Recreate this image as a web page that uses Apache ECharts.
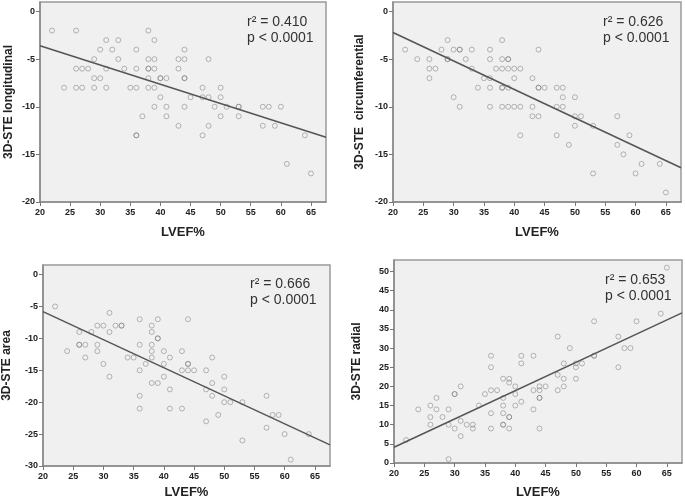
<!DOCTYPE html>
<html>
<head>
<meta charset="utf-8">
<script src="https://cdn.jsdelivr.net/npm/echarts@6/dist/echarts.min.js"></script>
<style>
html,body{margin:0;padding:0;background:#fff;}
#main{width:685px;height:504px;}
</style>
</head>
<body>
<div id="main"></div>
<script>
// LVEF% vs 3D-STE strain, [x, y] (repeats = overlapping points)
var longPts = [[22,-2],[24,-8],[26,-2],[26,-6],[26,-8],[27,-6],[27,-8],[28,-6],[29,-5],[29,-7],[29,-8],
	[30,-4],[30,-7],[31,-3],[31,-6],[31,-8],[32,-4],[33,-3],[33,-5],[34,-6],[35,-8],[36,-4],[36,-6],[36,-8],
	[36,-13],[36,-13],[37,-11],[38,-2],[38,-5],[38,-6],[38,-6],[38,-7],[38,-8],[39,-3],[39,-5],[39,-6],[39,-8],
	[39,-10],[40,-7],[40,-7],[40,-9],[41,-7],[41,-10],[41,-11],[43,-5],[43,-6],[43,-12],[44,-4],[44,-5],
	[44,-7],[44,-7],[44,-10],[45,-9],[47,-8],[47,-9],[47,-13],[48,-5],[48,-9],[48,-12],[49,-10],[50,-8],
	[50,-9],[50,-11],[51,-10],[53,-10],[53,-10],[53,-11],[57,-10],[57,-12],[58,-10],[59,-12],[60,-10],
	[61,-16],[64,-13],[65,-17]];
var circPts = [[22,-4],[24,-5],[26,-5],[26,-6],[26,-7],[27,-6],[28,-4],[29,-3],[29,-5],[29,-5],[30,-4],
	[30,-9],[31,-4],[31,-4],[31,-10],[32,-5],[33,-4],[33,-6],[34,-8],[35,-7],[36,-4],[36,-5],[36,-7],[36,-8],
	[36,-10],[37,-6],[38,-3],[38,-5],[38,-6],[38,-8],[38,-8],[38,-10],[39,-5],[39,-5],[39,-6],[39,-8],[39,-10],
	[40,-6],[40,-7],[40,-10],[41,-6],[41,-10],[41,-13],[43,-7],[43,-10],[43,-11],[44,-4],[44,-8],[44,-8],
	[44,-11],[45,-8],[47,-8],[47,-10],[47,-13],[48,-8],[48,-9],[48,-10],[49,-14],[50,-9],[50,-11],[50,-12],
	[51,-11],[53,-12],[53,-17],[57,-11],[57,-14],[58,-15],[59,-13],[60,-17],[61,-16],[64,-16],[65,-19]];
var areaPts = [[22,-5],[24,-12],[26,-9],[26,-11],[26,-11],[27,-11],[27,-13],[28,-9],[29,-8],[29,-11],
	[29,-12],[30,-8],[30,-14],[31,-6],[31,-9],[31,-16],[32,-8],[33,-8],[33,-8],[34,-13],[35,-13],[36,-7],
	[36,-11],[36,-15],[36,-19],[36,-21],[37,-14],[38,-8],[38,-9],[38,-11],[38,-12],[38,-13],[38,-17],[39,-7],
	[39,-10],[39,-10],[39,-17],[40,-12],[40,-14],[40,-16],[41,-13],[41,-18],[41,-21],[43,-12],[43,-15],
	[43,-21],[44,-7],[44,-14],[44,-14],[44,-15],[45,-15],[47,-15],[47,-18],[47,-23],[48,-13],[48,-17],
	[48,-19],[49,-22],[50,-16],[50,-18],[50,-20],[51,-20],[53,-20],[53,-26],[57,-19],[57,-24],[58,-22],
	[59,-22],[60,-25],[61,-29],[64,-25]];
var radialPts = [[22,6],[24,14],[26,15],[26,12],[26,10],[27,17],[27,14],[28,12],[29,14],[29,10],[29,1],
	[30,18],[30,18],[30,9],[31,20],[31,11],[31,7],[32,10],[33,10],[33,9],[34,15],[35,18],[36,28],[36,25],
	[36,19],[36,13],[36,9],[37,19],[38,22],[38,17],[38,15],[38,13],[38,10],[38,10],[39,22],[39,21],[39,12],
	[39,12],[39,9],[40,20],[40,18],[40,15],[41,28],[41,26],[41,16],[43,28],[43,19],[43,14],[44,20],[44,19],
	[44,17],[44,17],[44,9],[45,20],[47,33],[47,23],[47,19],[48,26],[48,22],[48,20],[49,30],[50,26],[50,25],
	[50,22],[51,26],[53,37],[53,28],[53,28],[57,33],[57,25],[58,30],[59,30],[60,37],[64,39],[65,51]];

// fit line end points
var longFit = [[20,-3.6],[67.5,-13.2]];
var circFit = [[20,-2.2],[67.5,-16.4]];
var areaFit = [[20,-5.8],[67.5,-26.7]];
var radialFit = [[20,4.1],[67.5,39.2]];

var xTicks = [20,25,30,35,40,45,50,55,60,65];
var yTicksStrain = [0,-5,-10,-15,-20];
var yTicksArea = [0,-5,-10,-15,-20,-25,-30];
var yTicksRadial = [0,5,10,15,20,25,30,35,40,45,50];

var titles = ['3D-STE longitudinal','3D-STE  circumferential','3D-STE area','3D-STE radial'];
var stats = [['r\u00b2 = 0.410','p < 0.0001'],['r\u00b2 = 0.626','p < 0.0001'],
	['r\u00b2 = 0.666','p < 0.0001'],['r\u00b2 = 0.653','p < 0.0001']];

var grids = [
	{left:40, top:2, width:286, height:200},
	{left:393, top:2, width:288, height:200},
	{left:42, top:265, width:288, height:201},
	{left:394, top:260, width:288, height:203}
];
var yRanges = [[-20,1],[-20,1],[-30,1.5],[0,53]];
var yTicks = [yTicksStrain, yTicksStrain, yTicksArea, yTicksRadial];
var yGaps = [25,27,30,31];
var xGaps = [24,24,20,23];
var pts = [longPts, circPts, areaPts, radialPts];
var fits = [longFit, circFit, areaFit, radialFit];

var labelFont = {fontSize:9, fontWeight:'bold', color:'#222', fontFamily:'Liberation Sans, Arial'};

var option = {grid:[], xAxis:[], yAxis:[], series:[], graphic:[], animation:false};
for (var i=0;i<4;i++){
	var g = grids[i];
	option.grid.push({left:g.left, top:g.top, width:g.width, height:g.height, show:true,
		backgroundColor:'#f0f0f0', borderColor:'#9a9a9a', borderWidth:1.5});
	option.xAxis.push({
		type:'value', gridIndex:i, min:20, max:67.5,
		name:'LVEF%', nameLocation:'middle', nameGap:xGaps[i],
		nameTextStyle:{fontSize:13, fontWeight:'bold', color:'#222', fontFamily:'Liberation Sans, Arial'},
		axisLine:{show:true, onZero:false, lineStyle:{color:'#8a8a8a', width:1.5}},
		axisTick:{show:true, length:4, customValues:xTicks, lineStyle:{color:'#777'}},
		axisLabel:Object.assign({customValues:xTicks, margin:6}, labelFont),
		splitLine:{show:false}
	});
	option.yAxis.push({
		type:'value', gridIndex:i, min:yRanges[i][0], max:yRanges[i][1],
		name:titles[i], nameLocation:'middle', nameGap:yGaps[i],
		nameTextStyle:{fontSize:12, fontWeight:'bold', color:'#222', fontFamily:'Liberation Sans, Arial'},
		axisLine:{show:true, onZero:false, lineStyle:{color:'#8a8a8a', width:1.5}},
		axisTick:{show:true, length:4, customValues:yTicks[i], lineStyle:{color:'#777'}},
		axisLabel:Object.assign({customValues:yTicks[i], margin:5}, labelFont),
		splitLine:{show:false}
	});
	option.series.push({
		type:'scatter', xAxisIndex:i, yAxisIndex:i, data:pts[i],
		symbol:'circle', symbolSize:5,
		itemStyle:{color:'rgba(0,0,0,0)', borderColor:'rgba(110,110,110,0.6)', borderWidth:1}
	});
	option.series.push({
		type:'line', xAxisIndex:i, yAxisIndex:i, data:fits[i],
		symbol:'none', lineStyle:{color:'#555', width:1.5}
	});
}

// r2 / p text in the upper right of each plot
var statPos = [[247,14],[603,14],[250,276],[605,272]];
for (var k=0;k<4;k++){
	option.graphic.push({
		type:'text', left:statPos[k][0], top:statPos[k][1],
		style:{text:stats[k].join('\n'), fontSize:14, lineHeight:16, fill:'#333',
			fontFamily:'Liberation Sans, Arial'}
	});
}

var myChart = echarts.init(document.getElementById('main'));
myChart.setOption(option);
</script>
</body>
</html>
